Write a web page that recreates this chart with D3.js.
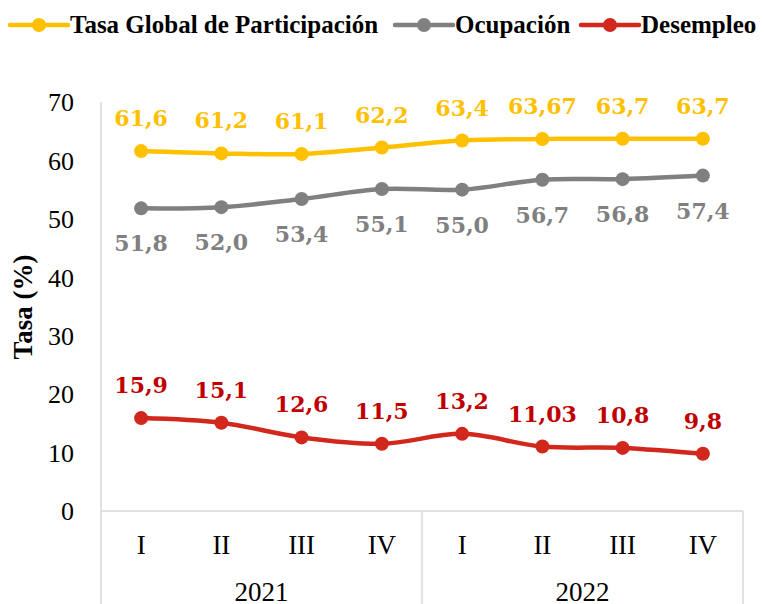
<!DOCTYPE html>
<html>
<head>
    <meta charset="utf-8">
    <script src="https://d3js.org/d3.v7.min.js"></script>
    <style>
        body { margin: 0; background: #fff; }
        svg { display: block; }
    </style>
</head>
<body>
    <svg id="chart" width="764" height="604"></svg>

    <script>
        // Data
        const years = ["2021", "2022"];
        const quarters = ["I", "II", "III", "IV"];
        const seriesNames = ["Tasa Global de Participación", "Ocupación", "Desempleo"];
        const participacion = [61.6, 61.2, 61.1, 62.2, 63.4, 63.67, 63.7, 63.7];
        const ocupacion = [51.8, 52.0, 53.4, 55.1, 55.0, 56.7, 56.8, 57.4];
        const desempleo = [15.9, 15.1, 12.6, 11.5, 13.2, 11.03, 10.8, 9.8];
        const participacionLabels = ["61,6", "61,2", "61,1", "62,2", "63,4", "63,67", "63,7", "63,7"];
        const ocupacionLabels = ["51,8", "52,0", "53,4", "55,1", "55,0", "56,7", "56,8", "57,4"];
        const desempleoLabels = ["15,9", "15,1", "12,6", "11,5", "13,2", "11,03", "10,8", "9,8"];
        const yTicks = [0, 10, 20, 30, 40, 50, 60, 70];

        // categories: year + quarter
        const categories = [];
        years.forEach(y => quarters.forEach(q => categories.push(y + "-" + q)));

        const series = [
            { name: seriesNames[0], values: participacion, labels: participacionLabels, color: "#FFC000", text: "#FFC000", dy: -25 },
            { name: seriesNames[1], values: ocupacion, labels: ocupacionLabels, color: "#808080", text: "#808080", dy: 43 },
            { name: seriesNames[2], values: desempleo, labels: desempleoLabels, color: "#D2271C", text: "#C00000", dy: -25 }
        ];

        const svg = d3.select("#chart");
        const plotLeft = 101, plotRight = 743, plotTop = 102, plotBottom = 511;
        const gridColor = "#D9D9D9";
        const serif = "Liberation Serif";

        const x = d3.scaleBand()
            .domain(categories)
            .range([plotLeft, plotRight])
            .padding(0);

        const y = d3.scaleLinear()
            .domain([0, 70])
            .range([plotBottom, plotTop]);

        const cx = c => x(c) + x.bandwidth() / 2;

        // axis lines / category box
        const lines = svg.append("g").attr("stroke", gridColor).attr("stroke-width", 1.5);
        lines.append("line").attr("x1", plotLeft).attr("x2", plotLeft).attr("y1", plotTop).attr("y2", 604);
        lines.append("line").attr("x1", plotLeft).attr("x2", plotRight).attr("y1", plotBottom).attr("y2", plotBottom);
        years.forEach(yr => {
            const xe = x(yr + "-IV") + x.bandwidth();
            lines.append("line").attr("x1", xe).attr("x2", xe).attr("y1", plotBottom).attr("y2", 604);
        });

        // y axis
        const yAxis = svg.append("g")
            .attr("transform", `translate(${plotLeft},0)`)
            .call(d3.axisLeft(y).tickValues(yTicks).tickSize(0).tickPadding(27));
        yAxis.select(".domain").remove();
        yAxis.selectAll("text")
            .attr("font-family", serif)
            .attr("font-size", "26px")
            .attr("fill", "#000")
            .attr("dy", "0.34em");

        // y title
        svg.append("text")
            .attr("transform", "translate(32,307) rotate(-90)")
            .attr("text-anchor", "middle")
            .attr("font-family", serif)
            .attr("font-weight", "bold")
            .attr("font-size", "27px")
            .text("Tasa (%)");

        // quarter labels
        svg.append("g").selectAll("text")
            .data(categories)
            .join("text")
            .attr("x", d => cx(d))
            .attr("y", 554)
            .attr("text-anchor", "middle")
            .attr("font-family", serif)
            .attr("font-size", "27px")
            .text(d => d.split("-")[1]);

        // year labels
        svg.append("g").selectAll("text")
            .data(years)
            .join("text")
            .attr("x", d => (x(d + "-I") + x(d + "-IV") + x.bandwidth()) / 2)
            .attr("y", 601)
            .attr("text-anchor", "middle")
            .attr("font-family", serif)
            .attr("font-size", "27px")
            .text(d => d);

        // lines
        const line = d3.line()
            .x((d, i) => cx(categories[i]))
            .y(d => y(d))
            .curve(d3.curveCatmullRom.alpha(0.5));

        series.forEach(s => {
            const g = svg.append("g");
            g.append("path")
                .attr("d", line(s.values))
                .attr("fill", "none")
                .attr("stroke", s.color)
                .attr("stroke-width", 4.5)
                .attr("stroke-linecap", "round");
            g.selectAll("circle")
                .data(s.values)
                .join("circle")
                .attr("cx", (d, i) => cx(categories[i]))
                .attr("cy", d => y(d))
                .attr("r", 7)
                .attr("fill", s.color);
            g.selectAll("text")
                .data(s.values)
                .join("text")
                .attr("x", (d, i) => cx(categories[i]))
                .attr("y", d => y(d) + s.dy)
                .attr("text-anchor", "middle")
                .attr("font-family", "DejaVu Serif")
                .attr("font-weight", "bold")
                .attr("font-size", "22px")
                .attr("fill", s.text)
                .text((d, i) => s.labels[i]);
        });

        // legend
        const legendX = [10, 395, 581];
        const legend = svg.append("g");
        series.forEach((s, i) => {
            const lg = legend.append("g").attr("transform", `translate(${legendX[i]},25)`);
            lg.append("line")
                .attr("x1", 0).attr("x2", 58)
                .attr("stroke", s.color)
                .attr("stroke-width", 4.5)
                .attr("stroke-linecap", "round");
            lg.append("circle").attr("cx", 29).attr("r", 7).attr("fill", s.color);
            lg.append("text")
                .attr("x", 60)
                .attr("y", 8)
                .attr("font-family", serif)
                .attr("font-weight", "bold")
                .attr("font-size", "25px")
                .text(s.name);
        });
    </script>
</body>
</html>
